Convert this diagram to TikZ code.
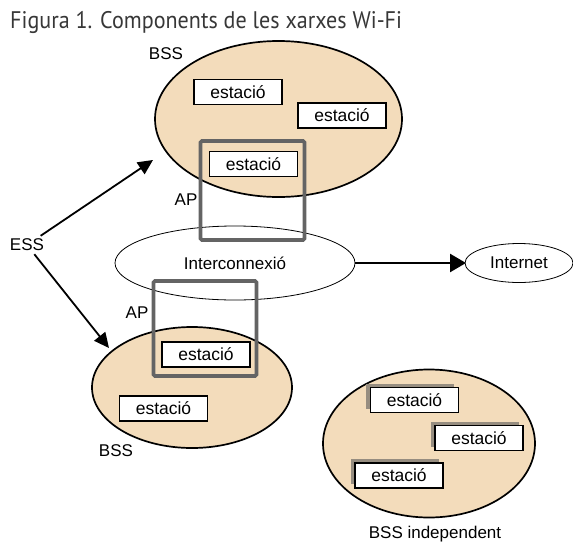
\documentclass[tikz,border=0pt]{standalone}
\usepackage{fontspec}
\setmainfont{Liberation Sans}
\newfontfamily\titlefont{PT Sans}
\usetikzlibrary{shapes.geometric,arrows.meta,shadows}
\definecolor{bssfill}{RGB}{243,220,187}
\definecolor{apgray}{RGB}{100,100,100}
\definecolor{shadowgray}{RGB}{150,141,128}
\definecolor{titlegray}{RGB}{55,55,55}
\tikzset{
  lbl/.style={font=\fontsize{17}{20}\selectfont, inner sep=1pt},
  bssell/.style={ellipse, draw=black, line width=1.7pt, fill=bssfill, inner sep=0pt, outer sep=0pt},
  netell/.style={ellipse, draw=black, line width=0.8pt, inner sep=0pt, outer sep=0pt,
    font=\fontsize{17}{20}\selectfont},
  stabox/.style={draw=black, line width=1.8pt, fill=white, minimum width=88pt,
    minimum height=25pt, inner sep=0pt, font=\fontsize{17.5}{20}\selectfont},
  stashadow/.style={stabox, general shadow={shadow xshift=-4.5pt, shadow yshift=4pt, fill=shadowgray}},
  apbox/.style={draw=apgray, line width=3.6pt, rounded corners=1.5pt, inner sep=0pt},
  arr/.style={draw=black, line width=1.8pt, -{Triangle[length=15pt,width=14pt]}},
  bigarr/.style={draw=black, line width=2.6pt, -{Triangle[length=16pt,width=18pt]}, shorten >=-1pt}
}
\begin{document}
\begin{tikzpicture}[x=1pt,y=-1pt]
\useasboundingbox (0,0) rectangle (573,544);

% title
\node[anchor=west, font=\titlefont\fontsize{24}{28}\selectfont, text=titlegray, inner sep=0pt,
  xscale=0.92] (title) at (10,22) {Figura 1. Components de les xarxes Wi-Fi};

% upper basic service set
\node[bssell, minimum width=247pt, minimum height=156pt] (bssA) at (278.5,119) {};
\node[lbl] (bssAlbl) at (166,54) {BSS};
\node[stabox] (staA1) at (238,92) {estació};
\node[stabox] (staA2) at (342,115.5) {estació};
\node[stabox] (staA3) at (253.5,164) {estació};

% lower basic service set
\node[bssell, minimum width=200pt, minimum height=121pt] (bssB) at (192,387.5) {};
\node[lbl] (bssBlbl) at (116,451) {BSS};
\node[stabox] (staB1) at (206,354.5) {estació};
\node[stabox] (staB2) at (163.5,408.5) {estació};

% independent basic service set
\node[bssell, minimum width=212pt, minimum height=148pt] (ibss) at (429,443.5) {};
\node[lbl] (ibsslbl) at (435,534) {BSS independent};
\node[stashadow] (staC1) at (414.5,400) {estació};
\node[stashadow] (staC2) at (479,438) {estació};
\node[stashadow] (staC3) at (399,475.5) {estació};

% distribution system and internet
\node[netell, minimum width=240pt, minimum height=74pt] (inter) at (235,263) {Interconnexió};
\node[netell, minimum width=108pt, minimum height=39pt] (inet) at (519,263) {Internet};
\draw[bigarr] (inter) -- (inet);

% access points
\node[apbox, minimum width=104pt, minimum height=99pt] (apA) at (252.5,190.5) {};
\node[apbox, minimum width=103pt, minimum height=95pt] (apB) at (205,328.5) {};
\node[lbl] (apAlbl) at (186,200) {AP};
\node[lbl] (apBlbl) at (137,313) {AP};

% extended service set
\node[lbl, inner sep=3pt] (ess) at (27,245) {ESS};
\coordinate (tipA) at (153,160);
\coordinate (tipB) at (109,348);
\draw[arr] (ess) -- (tipA);
\draw[arr] (ess) -- (tipB);
\end{tikzpicture}
\end{document}
